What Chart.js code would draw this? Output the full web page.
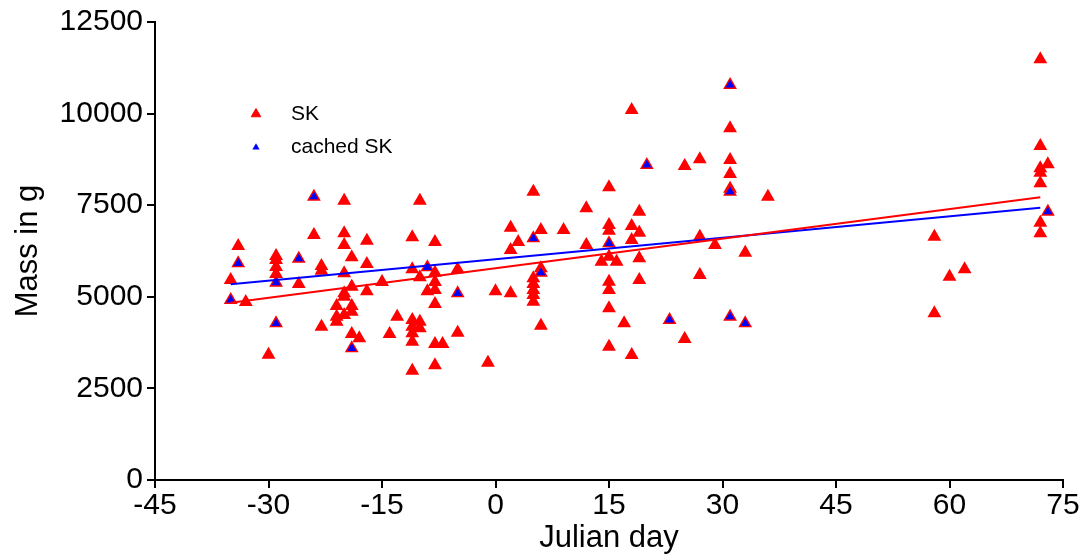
<!DOCTYPE html>
<html><head><meta charset="utf-8">
<script src="https://cdn.jsdelivr.net/npm/chart.js@4.4.0/dist/chart.umd.min.js"></script>
<style>html,body{margin:0;padding:0;background:#fff;} #wrap{width:1088px;height:557px;position:relative;}</style>
</head><body><div id="wrap"><canvas id="c" width="1088" height="557"></canvas></div>
<script>
// All SK fish (red), including the cached ones
const skDay = [
  -35,-35,-34,-34,-33,-30,
  -29,-29,-29,-29,-29,-29,
  -26,-26,-24,-24,-23,-23,-23,-21,-21,-21,
  -20,-20,-20,-20,-20,-20,-20,
  -19,-19,-19,-19,-19,-19,-18,
  -17,-17,-17,-15,-14,-13,
  -11,-11,-11,-11,-11,-11,-11,
  -10,-10,-10,-10,-9,-9,
  -8,-8,-8,-8,-8,-8,-8,-7,
  -5,-5,-5,-1,0,
  2,2,2,3,
  5,5,5,5,5,5,5,
  6,6,6,6,9,12,12,14,
  15,15,15,15,15,15,15,15,15,
  16,17,18,18,18,18,19,19,19,19,20,23,
  25,25,27,27,27,29,
  31,31,31,31,31,31,31,33,33,36,
  58,58,60,62,
  72,72,72,72,72,72,72,73,73
];
const skMass = [
  5459,4913,6386,5914,4858,3420,
  6114,6005,5814,5623,5385,4276,
  6040,5350,7732,6687,5840,5713,4185,4749,4457,4321,
  7623,6732,6414,5641,5095,5004,4503,
  6077,5277,4749,4594,3985,3594,3867,
  6531,5895,5149,5404,3985,4457,
  6623,5750,4367,4185,4004,3775,2983,
  7623,5532,4321,4140,5804,5149,
  6495,5659,5404,5186,4804,3712,3130,3712,
  5750,5095,4021,3203,5149,
  6887,6277,5095,6495,
  7869,6596,5504,5350,5186,5050,4866,
  6823,5777,5659,4212,6823,7415,6414,5958,
  7987,6960,6805,6459,6095,5413,5186,4686,3639,
  5958,4276,10098,6932,6550,3412,7323,6750,6050,5459,8597,4367,
  8570,3850,8752,6641,5595,6414,
  10781,9598,8734,8352,7950,7869,4457,6204,4276,7732,
  6641,4549,5550,5750,
  11482,9116,8507,8388,8097,7023,6732,8616,7323
];
// Cached SK fish (blue)
const cachedDay  = [-35,-34,-29,-29,-26,-24,-19,-9,-5,5,6,15,20,23,31,31,31,33,73];
const cachedMass = [4913,5914,5385,4276,6040,7732,3594,5804,5095,6596,5659,6459,8597,4367,10781,7869,4457,4276,7323];
// Fitted trend lines (end points)
const fitDay    = [-35, 72];
const skFit     = [4840, 7715];
const cachedFit = [5340, 7432];
// Axis ticks
const xTicks = [-45,-30,-15,0,15,30,45,60,75];
const yTicks = [0,2500,5000,7500,10000,12500];

const FONT = "'Liberation Sans', Arial, sans-serif";
const pts = (xs, ys) => xs.map((x,i)=>({x:x, y:ys[i]}));

const legendPlugin = {
  id: 'customLegend',
  afterDraw(chart){
    const ctx = chart.ctx;
    const items = [
      {label: chart.data.datasets[2].label, fill:'#ff0000', stroke:'#ff0000', r:5.5, bw:1, y:114},
      {label: chart.data.datasets[1].label, fill:'#0000ff', stroke:'#0000ff', r:4.2, bw:0, y:147.5}
    ];
    ctx.save();
    items.forEach(it=>{
      ctx.fillStyle = it.fill; ctx.strokeStyle = it.stroke; ctx.lineWidth = it.bw;
      Chart.helpers.drawPoint(ctx, {pointStyle:'triangle', rotation:0, radius:it.r, borderWidth:it.bw}, 256, it.y);
      ctx.fillStyle = '#000';
      ctx.font = "21px " + FONT;
      ctx.textBaseline = 'middle';
      ctx.textAlign = 'left';
      ctx.fillText(it.label, 291, it.y);
    });
    ctx.restore();
  }
};

new Chart(document.getElementById('c'), {
  type: 'scatter',
  data: {
    datasets: [
      { label: 'SK fit', data: pts(fitDay, skFit), showLine: true, borderColor: '#ff0000', borderWidth: 2,
        pointRadius: 0, fill: false, order: 0 },
      { label: 'cached SK', data: pts(cachedDay, cachedMass), pointStyle: 'triangle', pointRadius: 5.2,
        backgroundColor: '#0000ff', borderColor: '#0000ff', borderWidth: 0, order: 1 },
      { label: 'SK', data: pts(skDay, skMass), pointStyle: 'triangle', pointRadius: 6.5,
        backgroundColor: '#ff0000', borderColor: '#ff0000', borderWidth: 1.5, order: 2 },
      { label: 'cached SK fit', data: pts(fitDay, cachedFit), showLine: true, borderColor: '#0000ff', borderWidth: 2,
        pointRadius: 0, fill: false, order: 0 }
    ]
  },
  options: {
    responsive: false,
    devicePixelRatio: 1,
    animation: false,
    layout: { padding: { left: 0, right: 25, top: 22, bottom: 0 } },
    plugins: { legend: { display: false }, tooltip: { enabled: false } },
    scales: {
      x: {
        type: 'linear', position: 'bottom', min: -45, max: 75,
        afterBuildTicks: s => { s.ticks = xTicks.map(v => ({value: v})); },
        afterFit: s => { s.height = 77; },
        ticks: { font: { family: FONT, size: 30 }, color: '#000', padding: 0, maxRotation: 0, autoSkip: false,
                 callback: v => String(v) },
        grid: { drawOnChartArea: false, drawTicks: true, tickLength: 8, color: '#000', lineWidth: 2 },
        border: { display: true, color: '#000', width: 2 },
        title: { display: true, text: 'Julian day', color: '#000', font: { family: FONT, size: 31 }, padding: { top: 0, bottom: 0 } }
      },
      y: {
        type: 'linear', position: 'left', min: 0, max: 12500,
        afterBuildTicks: s => { s.ticks = yTicks.map(v => ({value: v})); },
        afterFit: s => { s.width = 155; },
        ticks: { font: { family: FONT, size: 30 }, color: '#000', padding: 4, autoSkip: false,
                 callback: v => String(v) },
        grid: { drawOnChartArea: false, drawTicks: true, tickLength: 8, color: '#000', lineWidth: 2 },
        border: { display: true, color: '#000', width: 2 },
        title: { display: true, text: 'Mass in g', color: '#000', font: { family: FONT, size: 31 }, padding: { top: 10, bottom: 0 } }
      }
    }
  },
  plugins: [legendPlugin]
});
</script>
</body></html>
